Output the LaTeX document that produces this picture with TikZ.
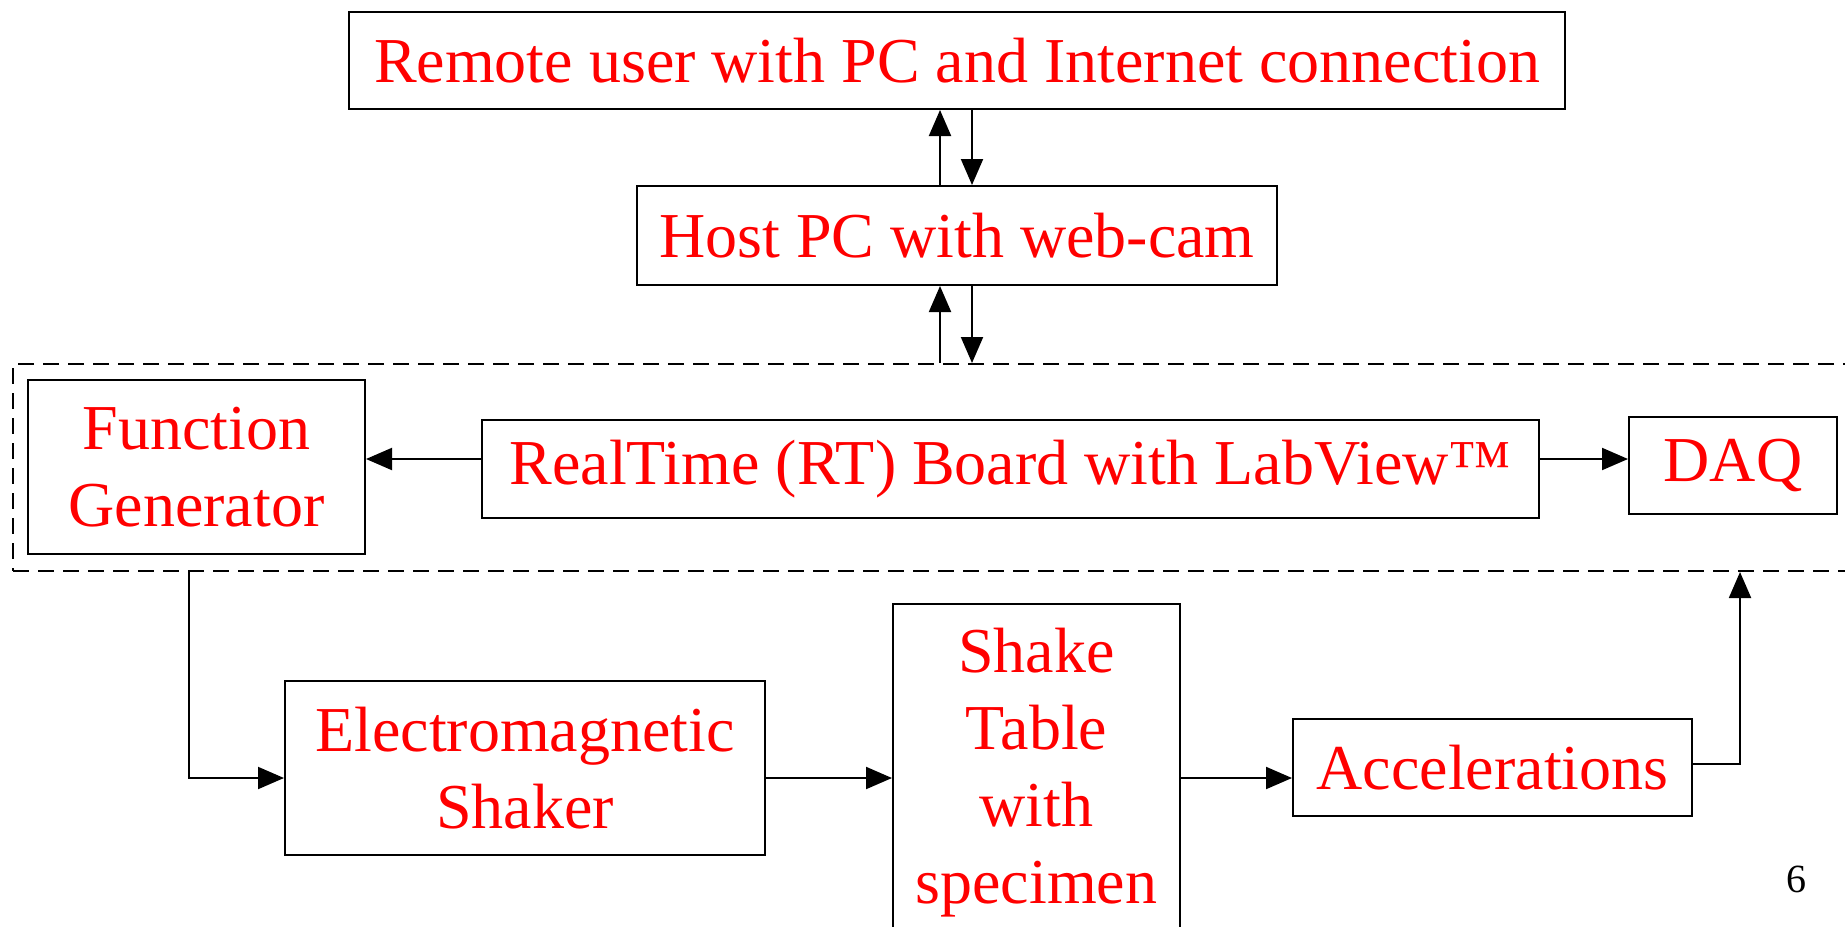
\documentclass[tikz,border=0pt]{standalone}
\usepackage{fontspec}
\setmainfont{Liberation Serif}
\usetikzlibrary{arrows.meta}

\begin{document}
\begin{tikzpicture}[x=0.5pt,y=-0.5pt,block/.style={draw,line width=1pt,fill=white,inner sep=0pt,align=center,text=red,font=\fontsize{32}{38.5}\selectfont},flow/.style={line width=1pt,-{Triangle[length=13pt,width=11pt]}},plain/.style={line width=1pt}]
\useasboundingbox (0,0) rectangle (1845,926);
\coordinate (R) at (957,60.5);
\coordinate (H) at (957,235.5);
\coordinate (L) at (941.5,467.5);
\coordinate (FG) at (196.5,467);
\coordinate (RT) at (1010.5,469);
\coordinate (DQ) at (1733,465.5);
\coordinate (SH) at (525,768);
\coordinate (ST) at (1036.5,773);
\coordinate (AC) at (1492.5,767.5);
\node[draw,line width=1pt,dash pattern=on 8pt off 4.5pt,minimum width=928.5pt,minimum height=103.5pt] (lab) at (L) {};
\node[block,minimum width=608pt,minimum height=48.5pt] (remote) at (R) {Remote user with PC and Internet connection};
\node[block,minimum width=320pt,minimum height=49.5pt] (host) at (H) {Host PC with web-cam};
\node[block,minimum width=168.5pt,minimum height=87pt] (fgen) at (FG) {Function\\Generator};
\node[block,minimum width=528.5pt,minimum height=49pt] (rtboard) at (RT) {RealTime (RT) Board with LabView™};
\node[block,minimum width=104pt,minimum height=48.5pt] (daq) at (DQ) {DAQ};
\node[block,minimum width=240pt,minimum height=87pt] (shaker) at (SH) {Electromagnetic\\Shaker};
\node[block,minimum width=143.5pt,minimum height=169pt] (table) at (ST) {Shake\\Table\\with\\specimen};
\node[block,minimum width=199.5pt,minimum height=48.5pt] (accel) at (AC) {Accelerations};
\node[font=\fontsize{20}{24}\selectfont] (page) at (1796,879) {6};
% links between host, remote user and RT system
\coordinate (hup) at ([xshift=-8.5pt]host.south);
\coordinate (hdown) at ([xshift=7.5pt]host.south);
\draw[flow] ([xshift=-8.5pt]host.north) -- ([xshift=-8.5pt]remote.south);
\draw[flow] ([xshift=7.5pt]remote.south) -- ([xshift=7.5pt]host.north);
\draw[flow] (hup |- lab.north) -- (hup);
\draw[flow] (hdown) -- (hdown |- lab.north);
% signal chain
\draw[flow] ([yshift=5pt]rtboard.west) -- ([yshift=5pt]rtboard.west -| fgen.east);
\draw[flow] ([yshift=5pt]rtboard.east) -- ([yshift=5pt]rtboard.east -| daq.west);
\coordinate (fgdrop) at ([xshift=-3.75pt]fgen.south);
\draw[flow] (fgdrop |- lab.south) |- ([yshift=-5pt]shaker.west);
\draw[flow] ([yshift=-5pt]shaker.east) -- ([yshift=-5pt]shaker.east -| table.west);
\draw[flow] ([yshift=-5pt]shaker.east -| table.east) -- ([yshift=-5pt]shaker.east -| accel.west);
\coordinate (daqrise) at ([xshift=3.5pt]daq.south);
\draw[flow] ([yshift=2pt]accel.east) -| (daqrise |- lab.south);
\end{tikzpicture}
\end{document}
